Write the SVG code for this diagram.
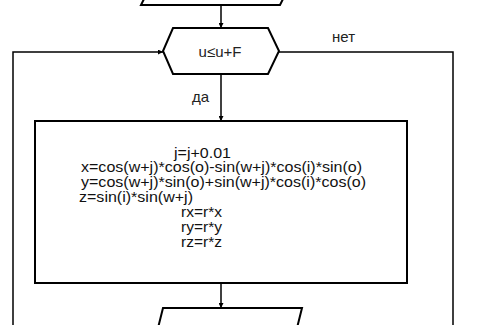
<svg xmlns="http://www.w3.org/2000/svg" width="487" height="325" viewBox="0 0 487 325">
<style>
.shape{fill:#fff;stroke:#000;stroke-width:2}
.ln{fill:none;stroke:#000;stroke-width:1.5}
.t{font-family:"Liberation Sans",Arial,sans-serif;font-size:15px;fill:#222}
.c{font-family:"Liberation Sans",Arial,sans-serif;font-size:14px;fill:#111}
</style>
<defs>
<marker id="ah" viewBox="0 0 8 8" refX="8" refY="4" markerWidth="5" markerHeight="5" markerUnits="userSpaceOnUse" orient="auto">
<path d="M0,0 L8,4 L0,8 z" fill="#000"/>
</marker>
</defs>
<g id="connectors">
<path class="ln" d="M221,5 V28" marker-end="url(#ah)"/>
<path class="ln" d="M13,325 V52 H163" marker-end="url(#ah)"/>
<path class="ln" d="M279,52 H453 V325"/>
<path class="ln" d="M221,74 V121" marker-end="url(#ah)"/>
<path class="ln" d="M221,283 V308" marker-end="url(#ah)"/>
<text class="t" x="332" y="42">нет</text>
<text class="t" x="192" y="102">да</text>
</g>
<g id="top-io">
<path class="shape" d="M161,-35 H300 L280,5 H141 Z"/>
</g>
<g id="cond">
<path class="shape" d="M173,28 H268 L279,51 L268,74 H173 L163,51 Z"/>
<text class="t" x="220" y="56.5" text-anchor="middle">u≤u+F</text>
</g>
<g id="proc">
<rect class="shape" x="35" y="121" width="372" height="162"/>
<text class="c" x="174" y="157.5" textLength="57" lengthAdjust="spacingAndGlyphs">j=j+0.01</text>
<text class="c" x="81" y="172" textLength="281" lengthAdjust="spacingAndGlyphs">x=cos(w+j)*cos(o)-sin(w+j)*cos(i)*sin(o)</text>
<text class="c" x="81" y="187" textLength="285" lengthAdjust="spacingAndGlyphs">y=cos(w+j)*sin(o)+sin(w+j)*cos(i)*cos(o)</text>
<text class="c" x="79" y="202" textLength="114" lengthAdjust="spacingAndGlyphs">z=sin(i)*sin(w+j)</text>
<text class="c" x="181" y="216.5" textLength="41" lengthAdjust="spacingAndGlyphs">rx=r*x</text>
<text class="c" x="181" y="231.5" textLength="41" lengthAdjust="spacingAndGlyphs">ry=r*y</text>
<text class="c" x="181" y="246.5" textLength="41" lengthAdjust="spacingAndGlyphs">rz=r*z</text>
</g>
<g id="bottom-io">
<path class="shape" d="M163,308 H302 L296,332 H157 Z"/>
</g>
</svg>
